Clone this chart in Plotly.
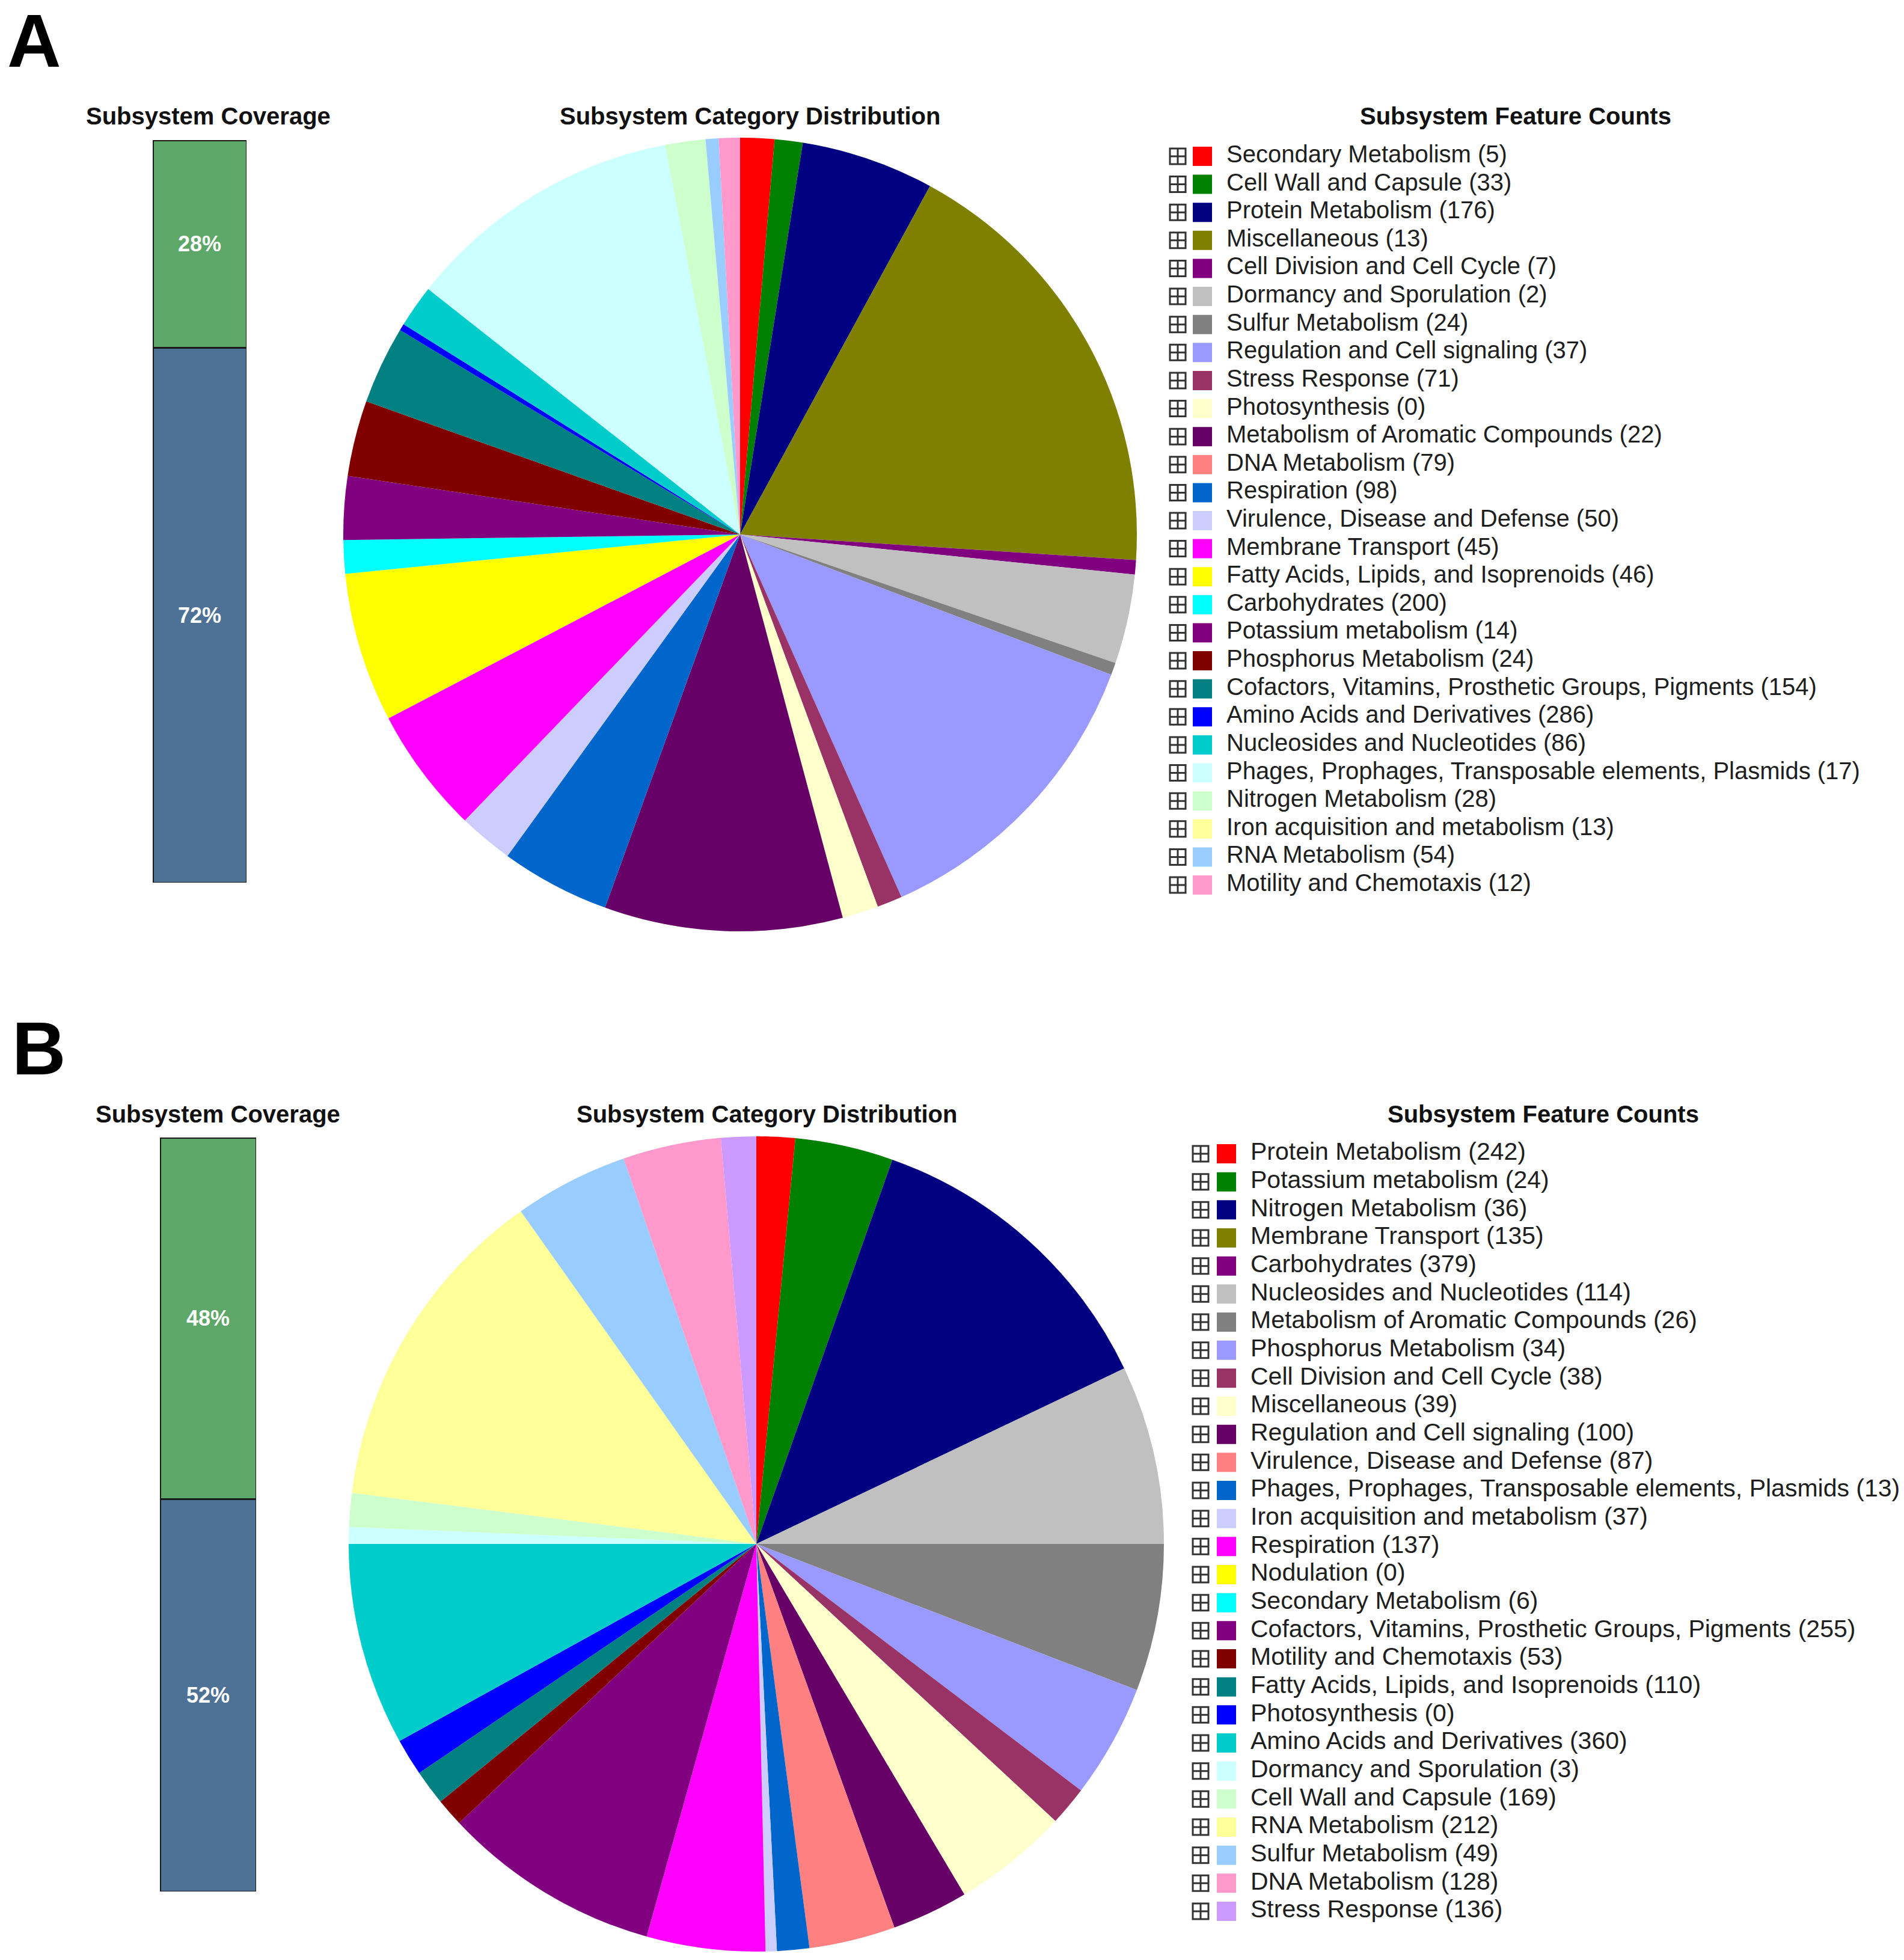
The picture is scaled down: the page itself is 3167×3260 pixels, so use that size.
import plotly.graph_objects as go

W, H = 3167, 3260

# ---------------- Panel A data ----------------
coverage_A = {"in": 28, "out": 72}
cats_A = ["Secondary Metabolism", "Cell Wall and Capsule", "Protein Metabolism", "Miscellaneous",
          "Cell Division and Cell Cycle", "Dormancy and Sporulation", "Sulfur Metabolism",
          "Regulation and Cell signaling", "Stress Response", "Photosynthesis",
          "Metabolism of Aromatic Compounds", "DNA Metabolism", "Respiration",
          "Virulence, Disease and Defense", "Membrane Transport", "Fatty Acids, Lipids, and Isoprenoids",
          "Carbohydrates", "Potassium metabolism", "Phosphorus Metabolism",
          "Cofactors, Vitamins, Prosthetic Groups, Pigments", "Amino Acids and Derivatives",
          "Nucleosides and Nucleotides", "Phages, Prophages, Transposable elements, Plasmids",
          "Nitrogen Metabolism", "Iron acquisition and metabolism", "RNA Metabolism",
          "Motility and Chemotaxis"]
counts_A = [5, 33, 176, 13, 7, 2, 24, 37, 71, 0, 22, 79, 98, 50, 45, 46, 200, 14, 24, 154, 286, 86, 17, 28, 13, 54, 12]
# estimated share of each slice in the pie (degrees of arc)
pie_A = [5.0, 4.1, 19.5, 65.1, 2.1, 13.1, 1.8, 45.3, 3.7, 5.3, 34.9, 0, 16.0, 8.0, 18.5, 21.9,
         4.9, 9.3, 11.1, 11.4, 1.0, 6.2, 40.9, 5.9, 0, 1.9, 3.1]
colors_A = ["#FF0000", "#008000", "#000080", "#808000", "#800080", "#C0C0C0", "#808080", "#9999FF",
            "#993366", "#FFFFCC", "#660066", "#FF8080", "#0066CC", "#CCCCFF", "#FF00FF", "#FFFF00",
            "#00FFFF", "#800080", "#800000", "#008080", "#0000FF", "#00CCCC", "#CCFFFF", "#CCFFCC",
            "#FFFF99", "#99CCFF", "#FF99CC"]

# ---------------- Panel B data ----------------
coverage_B = {"in": 48, "out": 52}
cats_B = ["Protein Metabolism", "Potassium metabolism", "Nitrogen Metabolism", "Membrane Transport",
          "Carbohydrates", "Nucleosides and Nucleotides", "Metabolism of Aromatic Compounds",
          "Phosphorus Metabolism", "Cell Division and Cell Cycle", "Miscellaneous",
          "Regulation and Cell signaling", "Virulence, Disease and Defense",
          "Phages, Prophages, Transposable elements, Plasmids", "Iron acquisition and metabolism",
          "Respiration", "Nodulation", "Secondary Metabolism",
          "Cofactors, Vitamins, Prosthetic Groups, Pigments", "Motility and Chemotaxis",
          "Fatty Acids, Lipids, and Isoprenoids", "Photosynthesis", "Amino Acids and Derivatives",
          "Dormancy and Sporulation", "Cell Wall and Capsule", "RNA Metabolism", "Sulfur Metabolism",
          "DNA Metabolism", "Stress Response"]
counts_B = [242, 24, 36, 135, 379, 114, 26, 34, 38, 39, 100, 87, 13, 37, 137, 0, 6, 255, 53, 110,
            0, 360, 3, 169, 212, 49, 128, 136]
pie_B = [5.5, 14.0, 45.0, 0, 0, 25.5, 21.0, 16.2, 5.6, 16.5, 10.9, 12.3, 4.6, 1.6, 16.9, 0, 0,
         31.2, 4.0, 5.0, 5.3, 28.9, 2.4, 4.8, 47.5, 16.3, 14.0, 5.0]
colors_B = ["#FF0000", "#008000", "#000080", "#808000", "#800080", "#C0C0C0", "#808080", "#9999FF",
            "#993366", "#FFFFCC", "#660066", "#FF8080", "#0066CC", "#CCCCFF", "#FF00FF", "#FFFF00",
            "#00FFFF", "#800080", "#800000", "#008080", "#0000FF", "#00CCCC", "#CCFFFF", "#CCFFCC",
            "#FFFF99", "#99CCFF", "#FF99CC", "#CC99FF"]

GREEN = "#5DA769"
BLUE = "#4E7196"
FONT = "Liberation Sans, Arial, sans-serif"


def px(x):
    return x / W


def py(y):
    return 1 - y / H


fig = go.Figure()


def add_panel(idx, cov, cats, counts, pie_vals, colors, bar_box, pie_c, pie_r,
              leg_x, leg_rows, leg_font, titles, letter, letter_pos):
    xa = "x" if idx == 1 else f"x{idx}"
    ya = "y" if idx == 1 else f"y{idx}"
    xl = f"x{idx + 2}"
    yl = f"y{idx + 2}"
    # coverage bar
    x0, y0, x1, y1 = bar_box
    for key, col in (("out", BLUE), ("in", GREEN)):
        fig.add_trace(go.Bar(
            x=[0], y=[cov[key]], xaxis=xa, yaxis=ya, width=1,
            marker=dict(color=col, line=dict(color="#1a1a1a", width=3)),
            text=[f"{cov[key]}%"], textposition="inside", insidetextanchor="middle",
            textfont=dict(color="white", size=36, family=FONT, weight="bold"),
            hoverinfo="skip", showlegend=False))
    ax_common = dict(visible=False, showgrid=False, zeroline=False, fixedrange=True)
    fig.layout[("xaxis" if idx == 1 else f"xaxis{idx}")] = dict(
        domain=[px(x0), px(x1)], range=[-0.5, 0.5], anchor=ya, **ax_common)
    fig.layout[("yaxis" if idx == 1 else f"yaxis{idx}")] = dict(
        domain=[py(y1), py(y0)], range=[0, 100], anchor=xa, **ax_common)

    # pie
    cx, cy = pie_c
    labels = [f"{c} ({n})" for c, n in zip(cats, counts)]
    fig.add_trace(go.Pie(
        labels=labels, values=pie_vals, sort=False, direction="clockwise", rotation=0,
        marker=dict(colors=colors, line=dict(width=0)), textinfo="none", showlegend=False,
        domain=dict(x=[px(cx - pie_r), px(cx + pie_r)], y=[py(cy + pie_r), py(cy - pie_r)])))

    # legend list
    n = len(cats)
    icon_x, sw_x, text_x, lx0, lx1 = leg_x
    first, last = leg_rows
    step = (last - first) / (n - 1)
    rows = list(range(n))
    fig.add_trace(go.Scatter(
        x=[icon_x] * n, y=rows, xaxis=xl, yaxis=yl, mode="markers",
        marker=dict(symbol="square-cross-open", size=26, color="#333333", line=dict(width=3)),
        hoverinfo="skip", showlegend=False))
    fig.add_trace(go.Scatter(
        x=[sw_x] * n, y=rows, xaxis=xl, yaxis=yl, mode="markers",
        marker=dict(symbol="square", size=32, color=colors, line=dict(width=0)),
        hoverinfo="skip", showlegend=False))
    fig.add_trace(go.Scatter(
        x=[text_x] * n, y=rows, xaxis=xl, yaxis=yl, mode="text", text=labels,
        textposition="middle right", textfont=dict(size=leg_font, color="#1e1e1e", family=FONT),
        hoverinfo="skip", showlegend=False))
    fig.layout[f"xaxis{idx + 2}"] = dict(domain=[px(lx0), px(lx1)], range=[lx0, lx1],
                                         anchor=yl, **ax_common)
    fig.layout[f"yaxis{idx + 2}"] = dict(domain=[py(last + step / 2), py(first - step / 2)],
                                         range=[n - 0.5, -0.5], anchor=xl, **ax_common)

    # titles
    for text, (tx, ty) in titles:
        fig.add_annotation(text=f"<b>{text}</b>", x=px(tx), y=py(ty), xref="paper", yref="paper",
                           showarrow=False, xanchor="center", yanchor="middle",
                           font=dict(size=40, color="#111111", family=FONT))
    fig.add_annotation(text=f"<b>{letter}</b>", x=px(letter_pos[0]), y=py(letter_pos[1]),
                       xref="paper", yref="paper", showarrow=False, xanchor="left",
                       yanchor="middle", font=dict(size=124, color="black", family=FONT))


add_panel(1, coverage_A, cats_A, counts_A, pie_A, colors_A,
          bar_box=(254, 233, 410, 1468), pie_c=(1231, 889), pie_r=660,
          leg_x=(1959, 2000, 2040, 1900, 3167), leg_rows=(260, 1472), leg_font=40,
          titles=[("Subsystem Coverage", (346, 193)),
                  ("Subsystem Category Distribution", (1247, 193)),
                  ("Subsystem Feature Counts", (2521, 193))],
          letter="A", letter_pos=(10, 68))

add_panel(2, coverage_B, cats_B, counts_B, pie_B, colors_B,
          bar_box=(266, 1892, 426, 3146), pie_c=(1258, 2568), pie_r=678,
          leg_x=(1997, 2040, 2080, 1940, 3167), leg_rows=(1919, 3179), leg_font=41,
          titles=[("Subsystem Coverage", (362, 1853)),
                  ("Subsystem Category Distribution", (1275, 1853)),
                  ("Subsystem Feature Counts", (2567, 1853))],
          letter="B", letter_pos=(18, 1744))

fig.update_layout(width=W, height=H, margin=dict(l=0, r=0, t=0, b=0),
                  paper_bgcolor="white", plot_bgcolor="white", barmode="stack",
                  showlegend=False, font=dict(family=FONT))

fig.write_html("out.html")
